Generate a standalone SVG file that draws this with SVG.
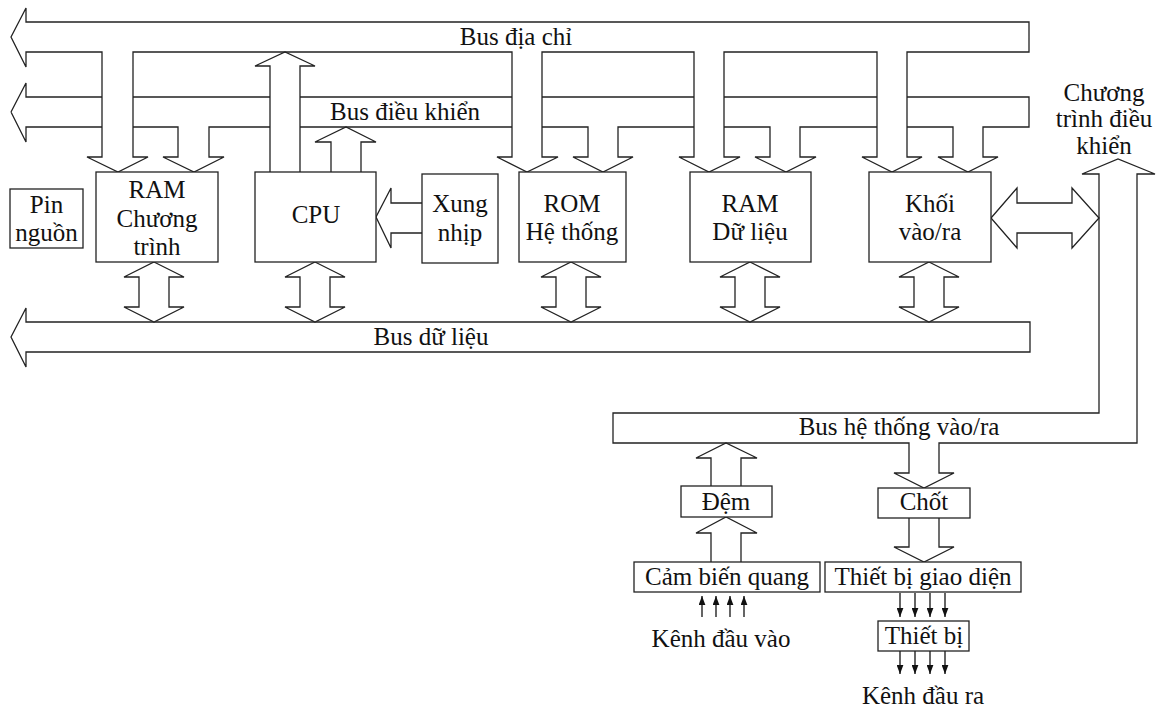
<svg xmlns="http://www.w3.org/2000/svg" width="1168" height="709" viewBox="0 0 1168 709">
<style>
.ln{fill:none;stroke:#222;stroke-width:1.3;stroke-linejoin:miter}
.bx{fill:#fff;stroke:#222;stroke-width:1.3}
.t{font-family:"Liberation Serif","Times New Roman",serif;font-size:25px;fill:#111;text-anchor:middle}
.sa{stroke:#111;stroke-width:1.3;fill:none}
</style>
<defs>
<path id="dbl" d="M0,262 L30,277 L15,277 L15,307 L30,307 L0,322 L-30,307 L-15,307 L-15,277 L-30,277 Z" fill="#fff" stroke="#222" stroke-width="1.3"/>
<marker id="ah" viewBox="0 0 8 6" refX="8" refY="3" markerWidth="9" markerHeight="7" markerUnits="userSpaceOnUse" orient="auto"><path d="M0,0 L8,3 L0,6 z" fill="#111"/></marker>
</defs>
<rect width="1168" height="709" fill="#fff"/>

<g id="address-bus">
<path class="ln" d="M11,37 L26,8 L26,22 L1029,22 L1029,52 L907,52 L907,157 L922,157 L892,172 L862,157 L877,157 L877,52 L724,52 L724,157 L740,157 L709,172 L679,157 L694,157 L694,52 L542,52 L542,157 L558,157 L527,172 L497,157 L512,157 L512,52 L133,52 L133,157 L148,157 L118,172 L87,157 L102,157 L102,52 L26,52 L26,67 Z"/>
<text class="t" x="516" y="45">Bus địa chỉ</text>
</g>

<g id="control-bus">
<path class="ln" d="M11,112 L26,83 L26,97 L102,97 M133,97 L270,97 M300,97 L512,97 M542,97 L694,97 M724,97 L877,97 M907,97 L1029,97 L1029,127 L983,127 L983,157 L998,157 L968,172 L938,157 L953,157 L953,127 L907,127 M877,127 L800,127 L800,157 L816,157 L786,172 L755,157 L770,157 L770,127 L724,127 M694,127 L618,127 L618,157 L633,157 L603,172 L573,157 L588,157 L588,127 L542,127 M512,127 L300,127 M270,127 L209,127 L209,157 L224,157 L194,172 L163,157 L178,157 L178,127 L133,127 M102,127 L26,127 L26,142 L11,112"/>
<text class="t" x="405" y="120">Bus điều khiển</text>
</g>

<g id="data-bus">
<path class="ln" d="M11,337 L26,308 L26,322 L1030,322 L1030,352 L26,352 L26,367 Z"/>
<text class="t" x="431" y="345">Bus dữ liệu</text>
</g>

<g id="io-bus">
<path class="ln" d="M613,413 L1099,413 L1099,174 L1082,174 L1118,159 L1155,174 L1137,174 L1137,443 L939,443 L939,473 L954,473 L924,488 L894,473 L909,473 L909,443 L613,443 Z"/>
<text class="t" x="899" y="435">Bus hệ thống vào/ra</text>
<text class="t" x="1104" y="101">Chương</text>
<text class="t" x="1104" y="127">trình điều</text>
<text class="t" x="1104" y="154">khiển</text>
</g>

<g id="connectors">
<path class="ln" d="M270,172 L270,66 L255,66 L285,52 L315,66 L300,66 L300,172"/>
<path class="ln" d="M331,172 L331,142 L315,142 L346,127 L376,142 L361,142 L361,172"/>
<path class="ln" d="M422,203 L391,203 L391,188 L376,217 L391,248 L391,233 L422,233"/>
<path class="ln" d="M991,218 L1017,188 L1017,203 L1072,203 L1072,188 L1099,218 L1072,248 L1072,233 L1017,233 L1017,248 Z"/>
<use href="#dbl" x="154"/>
<use href="#dbl" x="315"/>
<use href="#dbl" x="571"/>
<use href="#dbl" x="750"/>
<use href="#dbl" x="929"/>
<path class="ln" d="M711,486 L711,458 L696,458 L726,443 L757,458 L741,458 L741,486"/>
<path class="ln" d="M711,562 L711,533 L696,533 L726,517 L757,533 L741,533 L741,562"/>
<path class="ln" d="M909,518 L909,547 L894,547 L924,562 L954,547 L939,547 L939,518"/>
<g marker-end="url(#ah)" class="sa">
<line x1="702" y1="617" x2="702" y2="596"/>
<line x1="716" y1="617" x2="716" y2="596"/>
<line x1="730" y1="617" x2="730" y2="596"/>
<line x1="744" y1="617" x2="744" y2="596"/>
<line x1="900" y1="593" x2="900" y2="617"/>
<line x1="915" y1="593" x2="915" y2="617"/>
<line x1="930" y1="593" x2="930" y2="617"/>
<line x1="945" y1="593" x2="945" y2="617"/>
<line x1="900" y1="651" x2="900" y2="674"/>
<line x1="915" y1="651" x2="915" y2="674"/>
<line x1="930" y1="651" x2="930" y2="674"/>
<line x1="945" y1="651" x2="945" y2="674"/>
</g>
</g>

<g id="pin-nguon"><rect class="bx" x="10" y="189" width="73" height="59"/><text class="t" x="46.5" y="213">Pin</text><text class="t" x="46.5" y="241">nguồn</text></g>
<g id="ram-chuong-trinh"><rect class="bx" x="96" y="172" width="122" height="90"/><text class="t" x="157" y="198">RAM</text><text class="t" x="157" y="227">Chương</text><text class="t" x="157" y="255">trình</text></g>
<g id="cpu"><rect class="bx" x="255" y="172" width="121" height="90"/><text class="t" x="316" y="223">CPU</text></g>
<g id="xung-nhip"><rect class="bx" x="422" y="174" width="76" height="89"/><text class="t" x="460" y="212">Xung</text><text class="t" x="460" y="241">nhịp</text></g>
<g id="rom-he-thong"><rect class="bx" x="519" y="172" width="107" height="90"/><text class="t" x="572" y="212">ROM</text><text class="t" x="572" y="240">Hệ thống</text></g>
<g id="ram-du-lieu"><rect class="bx" x="690" y="172" width="121" height="90"/><text class="t" x="750" y="212">RAM</text><text class="t" x="750" y="240">Dữ liệu</text></g>
<g id="khoi-vao-ra"><rect class="bx" x="869" y="172" width="122" height="90"/><text class="t" x="930" y="212">Khối</text><text class="t" x="930" y="240">vào/ra</text></g>
<g id="dem"><rect class="bx" x="681" y="486" width="91" height="31"/><text class="t" x="726" y="510">Đệm</text></g>
<g id="chot"><rect class="bx" x="878" y="488" width="92" height="30"/><text class="t" x="924" y="510">Chốt</text></g>
<g id="cam-bien-quang"><rect class="bx" x="634" y="562" width="186" height="30"/><text class="t" x="727" y="585">Cảm biến quang</text></g>
<g id="thiet-bi-giao-dien"><rect class="bx" x="825" y="562" width="196" height="30"/><text class="t" x="923" y="585">Thiết bị giao diện</text></g>
<g id="thiet-bi"><rect class="bx" x="878" y="621" width="91" height="30"/><text class="t" x="924" y="644">Thiết bị</text></g>
<g id="kenh-dau-vao"><text class="t" x="721" y="647">Kênh đầu vào</text></g>
<g id="kenh-dau-ra"><text class="t" x="923" y="704">Kênh đầu ra</text></g>
</svg>
